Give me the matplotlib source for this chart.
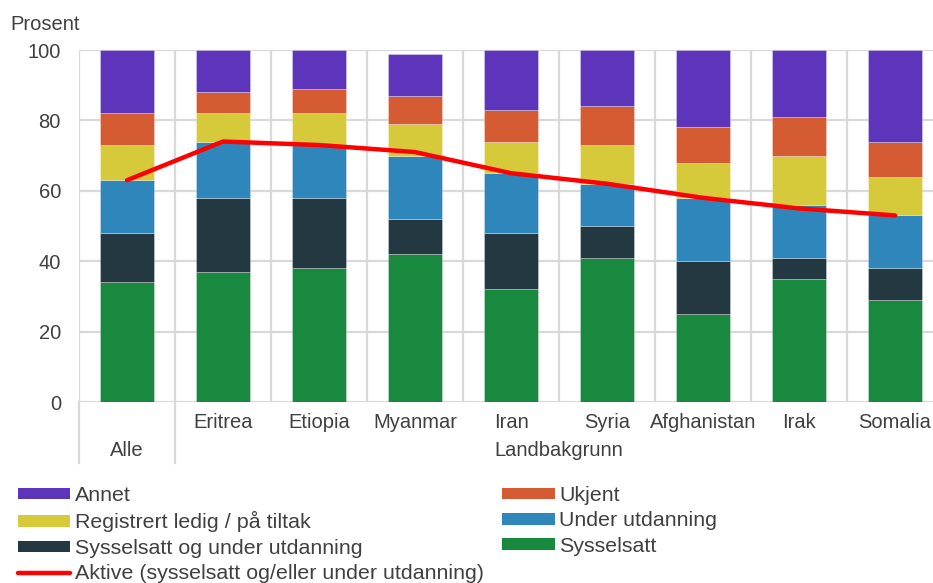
import matplotlib
matplotlib.use("Agg")
import matplotlib.pyplot as plt
from matplotlib.patches import Patch
from matplotlib.lines import Line2D
import matplotlib.transforms as mtransforms
import numpy as np

plt.rcParams['font.family'] = ['Liberation Sans', 'DejaVu Sans']

categories = ["Alle", "Eritrea", "Etiopia", "Myanmar", "Iran", "Syria", "Afghanistan", "Irak", "Somalia"]
tick_labels = ["", "Eritrea", "Etiopia", "Myanmar", "Iran", "Syria", "Afghanistan", "Irak", "Somalia"]

sysselsatt = [34, 37, 38, 42, 32, 41, 25, 35, 29]
syss_og_utd = [14, 21, 20, 10, 16, 9, 15, 6, 9]
under_utd = [15, 16, 15, 18, 17, 12, 18, 15, 15]
registrert = [10, 8, 9, 9, 9, 11, 10, 14, 11]
ukjent = [9, 6, 7, 8, 9, 11, 10, 11, 10]
annet = [18, 12, 11, 12, 17, 16, 22, 19, 26]
aktive = [63, 74, 73, 71, 65, 62, 58, 55, 53]

series = [
    ("Sysselsatt", sysselsatt, "#18893F"),
    ("Sysselsatt og under utdanning", syss_og_utd, "#233840"),
    ("Under utdanning", under_utd, "#2E86BB"),
    ("Registrert ledig / på tiltak", registrert, "#D6C93A"),
    ("Ukjent", ukjent, "#D55B33"),
    ("Annet", annet, "#5C35BB"),
]

TXT = "#404040"
GRID = "#D9D9D9"
FS = 14.5
LFS = 15.4

fig = plt.figure(figsize=(9.33, 5.83), dpi=100)
ax = fig.add_axes([79/933, 1-402/583, 864/933, 352/583])

x = np.arange(len(categories))
bottom = np.zeros(len(categories))
for name, vals, col in series:
    ax.bar(x, vals, width=0.57, bottom=bottom, color=col, edgecolor=(1, 1, 1, 0.35), linewidth=0.6, zorder=2)
    bottom += np.array(vals)

ax.plot(x, aktive, color="#FF0000", lw=3.2, solid_capstyle="round", solid_joinstyle="round", zorder=3)

ax.set_xlim(-0.5, len(categories) - 0.5)
ax.set_ylim(0, 100)
ax.set_yticks(range(0, 101, 20))
ax.set_xticks(x)
ax.set_xticklabels(tick_labels)
ax.tick_params(axis='both', length=0, labelsize=FS, labelcolor=TXT)
ax.tick_params(axis='y', pad=13)
ax.tick_params(axis='x', pad=8)

for s in ax.spines.values():
    s.set_visible(False)
for yv in range(0, 101, 20):
    ax.axhline(yv, color=GRID, lw=1.6, zorder=1)
for xv in np.arange(-0.5, len(categories), 1.0):
    ax.axvline(xv, color=GRID, lw=1.6, zorder=1)

trans = mtransforms.blended_transform_factory(ax.transData, ax.transAxes)
for xv in [-0.5, 0.5]:
    ax.add_line(Line2D([xv, xv], [0, -(463-402)/352], transform=trans, color=GRID, lw=1.6, clip_on=False))

ax.text(0, -(451-402)/352, "Alle", transform=trans, ha="center", va="center", fontsize=FS, color=TXT)
ax.text((0.5 + len(categories) - 0.5) / 2, -(451-402)/352, "Landbakgrunn", transform=trans,
        ha="center", va="center", fontsize=FS, color=TXT)

fig.text(10/933, 1-30/583, "Prosent", fontsize=FS, color=TXT, ha="left", va="baseline")

colmap = {n: c for n, v, c in series}
order = [
    ("Annet", "patch"), ("Registrert ledig / på tiltak", "patch"),
    ("Sysselsatt og under utdanning", "patch"), ("Aktive (sysselsatt og/eller under utdanning)", "line"),
    ("Ukjent", "patch"), ("Under utdanning", "patch"), ("Sysselsatt", "patch"),
]
handles = []
for name, kind in order:
    if kind == "patch":
        handles.append(Patch(facecolor=colmap[name], edgecolor="none", label=name))
    else:
        handles.append(Line2D([], [], color="#FF0000", lw=3.2, solid_capstyle="round", label=name))

leg = fig.legend(handles=handles, loc="upper left", bbox_to_anchor=(18/933, 1-486/583), ncol=2,
                 frameon=False, fontsize=LFS, handlelength=2.45, handleheight=0.45, handletextpad=0.2,
                 labelspacing=0.3, columnspacing=0.87, borderpad=0, borderaxespad=0)
for t in leg.get_texts():
    t.set_color(TXT)

fig.savefig("out.png", dpi=100)
